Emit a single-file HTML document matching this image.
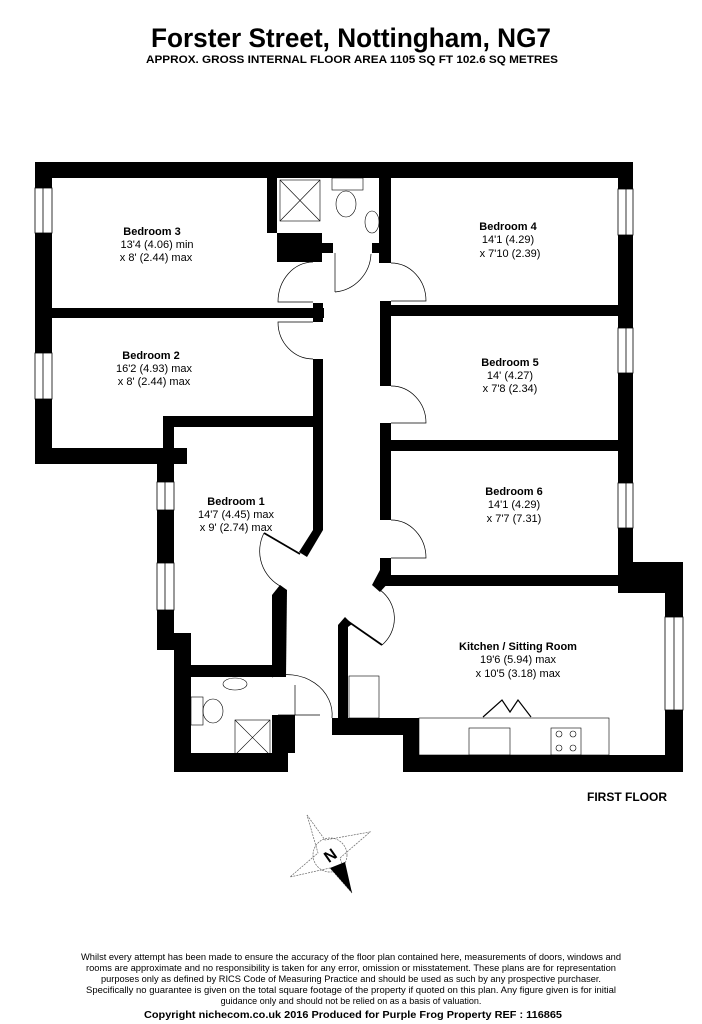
<!DOCTYPE html>
<html><head><meta charset="utf-8"><style>
html,body{margin:0;padding:0;background:#fff;}
svg{display:block;}
text{font-family:"Liberation Sans",Arial,sans-serif;fill:#000;}
</style></head><body>
<svg width="702" height="1024" viewBox="0 0 702 1024" xmlns="http://www.w3.org/2000/svg">
<rect width="702" height="1024" fill="#fff"/>
<text x="351" y="47" text-anchor="middle" font-size="27" font-weight="bold" textLength="400" lengthAdjust="spacingAndGlyphs">Forster Street, Nottingham, NG7</text>
<text x="352" y="63" text-anchor="middle" font-size="11" font-weight="bold" textLength="412" lengthAdjust="spacingAndGlyphs">APPROX. GROSS INTERNAL FLOOR AREA 1105 SQ FT 102.6 SQ METRES</text>

<g fill="#000">
<rect x="35" y="162" width="598" height="16"/>
<rect x="35" y="162" width="17" height="302"/>
<rect x="52" y="308" width="272" height="10"/>
<rect x="313" y="303" width="10" height="19"/>
<rect x="35" y="448" width="152" height="16"/>
<rect x="163" y="416" width="150" height="11"/>
<rect x="163" y="416" width="11" height="48"/>
<rect x="313" y="359" width="10" height="171"/>
<polygon points="313,530 323,530 307,557 299,552"/>
<rect x="157" y="464" width="17" height="186"/>
<polygon points="280,585 287,590 286,677 272,677 272,595"/>
<rect x="157" y="633" width="34" height="17"/>
<rect x="174" y="633" width="17" height="139"/>
<rect x="174" y="665" width="112" height="12"/>
<rect x="174" y="753" width="114" height="19"/>
<rect x="272" y="715" width="23" height="38"/>
<rect x="267" y="178" width="10" height="55"/>
<rect x="277" y="233" width="45" height="29"/>
<rect x="313" y="243" width="20" height="10"/>
<rect x="379" y="178" width="12" height="85"/>
<rect x="372" y="243" width="9" height="10"/>
<rect x="380" y="301" width="11" height="85"/>
<rect x="380" y="423" width="11" height="97"/>
<rect x="380" y="558" width="11" height="17"/>
<polygon points="380,570 391,580 380,592 372,585"/>
<rect x="380" y="305" width="238" height="11"/>
<rect x="380" y="440" width="238" height="11"/>
<rect x="382" y="575" width="251" height="11"/>
<rect x="618" y="162" width="15" height="400"/>
<rect x="618" y="562" width="65" height="31"/>
<rect x="665" y="562" width="18" height="210"/>
<polygon points="345,617 352,624 348,627 348,735 338,735 338,625"/>
<rect x="332" y="718" width="87" height="17"/>
<rect x="403" y="718" width="16" height="54"/>
<rect x="403" y="755" width="280" height="17"/>
</g>

<g fill="#fff" stroke="#000" stroke-width="0.8">
<rect x="35" y="188" width="17" height="45"/>
<rect x="35" y="353" width="17" height="46"/>
<rect x="157" y="482" width="17" height="28"/>
<rect x="157" y="563" width="17" height="47"/>
<rect x="618" y="189" width="15" height="46"/>
<rect x="618" y="328" width="15" height="45"/>
<rect x="618" y="483" width="15" height="45"/>
<rect x="665" y="617" width="18" height="93"/>
</g>
<g stroke="#000" stroke-width="0.8">
<line x1="43" y1="188" x2="43" y2="233"/><line x1="43" y1="353" x2="43" y2="399"/>
<line x1="165" y1="482" x2="165" y2="510"/><line x1="165" y1="563" x2="165" y2="610"/>
<line x1="626" y1="189" x2="626" y2="235"/><line x1="626" y1="328" x2="626" y2="373"/>
<line x1="626" y1="483" x2="626" y2="528"/><line x1="674" y1="617" x2="674" y2="710"/>
</g>

<g fill="none" stroke="#000" stroke-width="0.7">
<path d="M313,262 A35,40 0 0 0 278,302 L313,302"/>
<path d="M313,359 A35,37 0 0 1 278,322 L313,322"/>
<line x1="335" y1="253" x2="335" y2="292"/>
<path d="M335,292 A40,40 0 0 0 371,254"/>
<path d="M391,263 A35,38 0 0 1 426,301 L391,301"/>
<path d="M391,386 A35,37 0 0 1 426,423 L391,423"/>
<path d="M391,520 A35,38 0 0 1 426,558 L391,558"/>
<path d="M264,533 A40,40 0 0 0 282,587"/>
<path d="M380,590 A35,35 0 0 1 382,645"/>
<path d="M272,677 A45,40 0 0 1 332,718"/>
<line x1="295" y1="685" x2="295" y2="715"/>
<line x1="278" y1="715" x2="320" y2="715"/>
</g>
<g stroke="#000" stroke-width="1.8"><line x1="264" y1="533" x2="300" y2="554"/><line x1="346" y1="620" x2="382" y2="645"/></g>

<g fill="none" stroke="#000" stroke-width="0.6">
<rect x="280" y="180" width="40" height="41"/>
<line x1="280" y1="180" x2="320" y2="221"/><line x1="320" y1="180" x2="280" y2="221"/>
<rect x="332" y="178" width="31" height="12"/>
<ellipse cx="346" cy="204" rx="10" ry="13"/>
<ellipse cx="372" cy="222" rx="7" ry="11"/>
<rect x="191" y="697" width="12" height="28"/>
<ellipse cx="213" cy="711" rx="10" ry="12"/>
<rect x="235" y="720" width="35" height="35"/>
<line x1="235" y1="720" x2="270" y2="755"/><line x1="270" y1="720" x2="235" y2="755"/>
<ellipse cx="235" cy="684" rx="12" ry="6"/>
<rect x="349" y="676" width="30" height="42"/>
<rect x="419" y="718" width="190" height="37"/>
<rect x="469" y="728" width="41" height="27"/>
<rect x="551" y="728" width="30" height="27"/>
<circle cx="559" cy="734" r="3"/><circle cx="573" cy="734" r="3"/>
<circle cx="559" cy="748" r="3"/><circle cx="573" cy="748" r="3"/>
<polyline points="483,717 502,700 510,712 518,700 531,717" stroke-width="1.2"/>
</g>

<g font-size="11" text-anchor="middle">
<text x="152" y="235" font-weight="bold">Bedroom 3</text>
<text x="157" y="248">13'4 (4.06) min</text>
<text x="156" y="261">x 8' (2.44) max</text>
<text x="151" y="359" font-weight="bold">Bedroom 2</text>
<text x="154" y="372">16'2 (4.93) max</text>
<text x="154" y="385">x 8' (2.44) max</text>
<text x="508" y="230" font-weight="bold">Bedroom 4</text>
<text x="508" y="243">14'1 (4.29)</text>
<text x="510" y="257">x 7'10 (2.39)</text>
<text x="510" y="366" font-weight="bold">Bedroom 5</text>
<text x="510" y="379">14' (4.27)</text>
<text x="510" y="392">x 7'8 (2.34)</text>
<text x="514" y="495" font-weight="bold">Bedroom 6</text>
<text x="514" y="508">14'1 (4.29)</text>
<text x="514" y="522">x 7'7 (7.31)</text>
<text x="236" y="505" font-weight="bold">Bedroom 1</text>
<text x="236" y="518">14'7 (4.45) max</text>
<text x="236" y="531">x 9' (2.74) max</text>
<text x="518" y="650" font-weight="bold">Kitchen / Sitting Room</text>
<text x="518" y="663">19'6 (5.94) max</text>
<text x="518" y="677">x 10'5 (3.18) max</text>
</g>
<text x="627" y="801" font-size="12" font-weight="bold" text-anchor="middle">FIRST FLOOR</text>

<g stroke="#666" stroke-width="0.7" fill="none" stroke-dasharray="2,1">
<polygon points="307,815 325,840 370,832 340,858 352,893 330,868 290,877 318,853"/>
<circle cx="330" cy="855" r="17"/>
</g>
<polygon points="330,868 345,862 352,893" fill="#000"/>
<text x="330" y="861" font-size="16" font-weight="bold" text-anchor="middle" transform="rotate(-35 330 855)">N</text>

<g font-size="9" text-anchor="middle">
<text x="351" y="960" textLength="540" lengthAdjust="spacingAndGlyphs">Whilst every attempt has been made to ensure the accuracy of the floor plan contained here, measurements of doors, windows and</text>
<text x="351" y="971" textLength="530" lengthAdjust="spacingAndGlyphs">rooms are approximate and no responsibility is taken for any error, omission or misstatement. These plans are for representation</text>
<text x="351" y="982" textLength="500" lengthAdjust="spacingAndGlyphs">purposes only as defined by RICS Code of Measuring Practice and should be used as such by any prospective purchaser.</text>
<text x="351" y="993" textLength="530" lengthAdjust="spacingAndGlyphs">Specifically no guarantee is given on the total square footage of the property if quoted on this plan. Any figure given is for initial</text>
<text x="351" y="1004">guidance only and should not be relied on as a basis of valuation.</text>
<text x="353" y="1018" font-size="10" font-weight="bold" textLength="418" lengthAdjust="spacingAndGlyphs">Copyright nichecom.co.uk 2016     Produced for Purple Frog Property     REF :  116865</text>
</g>
</svg>
</body></html>
